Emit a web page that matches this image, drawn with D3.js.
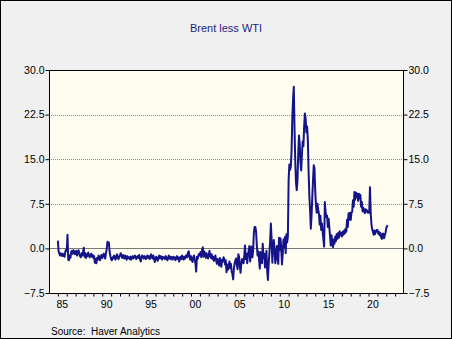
<!DOCTYPE html>
<html><head><meta charset="utf-8">
<script src="https://cdn.jsdelivr.net/npm/d3@7"></script>
<style>
html,body{margin:0;padding:0;background:#f0f0f0;}
svg{display:block;}
text{font-family:"Liberation Sans",Arial,sans-serif;}
</style></head>
<body>
<svg id="c" width="452" height="339"></svg>
<script>
const title = "Brent less WTI";
const source = "Source:  Haver Analytics";
const startYear = 1985;
// Monthly Brent less WTI ($/bbl), Jan 1985 onward, one row per year
const spread = [
  [1.3,-0.5,-0.9,-1.2,-0.8,-1.0,-1.3,-0.9,-1.1,-1.4,-0.6,-0.2],
  [-0.4,2.3,-1.9,-2.0,-1.2,-1.6,-0.6,-0.4,-0.9,-0.3,-0.5,-1.0],
  [-0.5,-0.4,-1.2,-0.7,-0.3,-0.9,-1.3,-1.5,-0.8,-1.2,-0.6,0.1],
  [-1.4,-0.8,-1.6,-1.0,-1.3,-0.7,-1.1,-1.5,-1.2,-0.9,-1.4,-1.1],
  [-1.6,-1.3,-2.4,-1.8,-2.5,-1.6,-1.9,-1.2,-1.6,-2.0,-1.4,-1.1],
  [-1.6,-1.2,-0.9,-1.4,-1.7,-0.8,-0.2,1.1,0.9,1.0,-0.6,-1.3],
  [-1.8,-2.0,-1.5,-1.7,-1.2,-1.6,-1.9,-1.3,-1.0,-1.5,-1.8,-1.4],
  [-1.2,-0.8,-1.3,-1.6,-1.1,-1.4,-1.7,-1.2,-1.5,-1.9,-1.3,-1.6],
  [-1.5,-1.8,-1.4,-1.9,-1.6,-1.3,-1.7,-1.5,-1.2,-1.4,-1.8,-1.5],
  [-1.3,-1.6,-1.1,-1.8,-2.2,-1.5,-1.2,-1.4,-1.7,-1.3,-1.5,-1.8],
  [-1.4,-1.2,-1.6,-1.3,-1.8,-1.5,-1.0,-1.4,-1.7,-1.2,-1.6,-2.3],
  [-1.8,-1.4,-1.6,-2.1,-1.5,-1.2,-1.7,-1.3,-1.6,-1.9,-1.4,-1.6],
  [-1.5,-1.8,-1.3,-1.6,-2.0,-1.7,-1.2,-1.5,-1.8,-1.4,-1.6,-1.9],
  [-1.4,-1.7,-1.5,-2.0,-1.6,-1.3,-1.8,-1.5,-2.2,-1.6,-1.4,-1.8],
  [-1.2,-1.6,-1.9,-1.4,-1.7,-1.3,-1.1,-1.5,-0.7,-0.5,-1.4,-1.9],
  [-1.3,-1.8,-2.3,-1.6,-1.2,-1.9,-2.5,-3.9,-1.4,-1.8,-1.2,-0.9],
  [-1.2,-0.6,-1.5,-0.2,0.2,-1.4,-0.5,-0.9,-1.6,-0.8,-1.3,-1.7],
  [-1.1,-0.4,-1.3,-1.6,-1.0,-1.8,-1.4,-2.1,-1.6,-1.2,-2.0,-2.6],
  [-1.8,-2.3,-2.9,-1.6,-2.5,-3.1,-1.9,-2.2,-1.5,-1.8,-2.7,-2.0],
  [-4.0,-2.7,-3.6,-3.0,-2.2,-3.3,-2.6,-3.9,-4.3,-5.2,-3.4,-2.5],
  [-2.0,-1.7,-2.8,-3.5,-1.0,-1.4,-2.9,-4.1,-2.6,-1.8,-2.3,-2.5],
  [-1.4,0.5,-1.8,-0.9,-2.5,-1.2,-0.3,0.4,-2.2,-0.5,0.3,-1.5],
  [-0.4,2.6,3.6,3.6,2.8,0.5,-1.2,-0.5,-1.8,-3.4,-0.6,-1.0],
  [-2.5,0.8,-1.6,-0.9,-3.2,-2.1,-0.4,-3.8,-5.3,-2.6,-0.8,1.2],
  [4.2,1.5,-2.4,0.6,1.4,-0.5,-2.5,-0.9,0.4,-1.8,-2.6,1.8],
  [-0.3,1.7,0.1,-2.7,-1.0,1.5,0.2,1.9,-0.8,2.4,1.0,2.0],
  [11.5,14.1,13.2,13.8,16.5,22.0,25.0,27.2,20.0,14.5,11.0,9.8],
  [11.5,16.0,19.0,17.5,14.5,13.1,15.8,18.0,17.2,20.5,22.7,21.8],
  [19.5,20.5,18.2,13.0,8.8,6.5,3.3,5.5,8.7,11.5,14.0,13.4],
  [9.5,7.2,6.0,7.5,6.5,5.8,4.0,5.5,3.1,4.2,2.8,1.5],
  [0.3,7.8,6.0,5.3,5.5,3.6,5.0,3.6,2.0,0.5,2.2,1.2],
  [0.2,1.5,0.8,2.0,1.2,2.4,1.6,2.6,1.8,2.9,2.2,2.6],
  [2.0,2.8,2.3,3.0,2.5,3.3,2.8,4.8,3.6,5.9,4.8,6.0],
  [4.8,6.0,6.2,8.1,7.0,9.5,8.2,9.4,8.6,9.2,8.0,9.2],
  [8.4,9.0,7.0,7.8,6.2,6.8,6.5,5.9,6.6,6.2,6.4,6.0],
  [6.2,6.0,10.3,5.9,4.0,3.2,2.8,2.3,3.0,2.4,2.9,3.1],
  [3.1,2.5,2.8,2.2,2.6,1.9,1.6,2.4,2.5,1.7,2.2,2.6],
  [3.4,3.7,3.9]
];
const yTicks = [-7.5, 0, 7.5, 15, 22.5, 30];
const xLabelYears = [1985,1990,1995,2000,2005,2010,2015,2020];
const xDomain = [1984, 2024];
const yDomain = [-7.5, 30];

const data = [];
spread.forEach((row,i)=>row.forEach((v,m)=>data.push({t:startYear+i+m/12, v})));

const svg = d3.select("#c");
const L=49, R=404, T=70, B=293;
const x = d3.scaleLinear().domain(xDomain).range([L,R]);
const y = d3.scaleLinear().domain(yDomain).range([B,T]);

// outer frame
svg.append("rect").attr("x",0.5).attr("y",0.5).attr("width",451).attr("height",338)
  .attr("fill","#f0f0f0").attr("stroke","#000");

// plot bg
svg.append("rect").attr("x",L).attr("y",T).attr("width",R-L).attr("height",B-T).attr("fill","#fffcf0");

// grid
yTicks.filter(v=>v>yDomain[0]&&v<yDomain[1]).forEach(v=>{
  svg.append("line").attr("x1",L).attr("x2",R).attr("y1",Math.round(y(v))+0.5).attr("y2",Math.round(y(v))+0.5)
    .attr("stroke", v===0?"#7a7a7a":"#8a8a8a").attr("stroke-width",1)
    .attr("stroke-dasharray", v===0?null:"1,1");
});

// line
const line = d3.line().x(d=>x(d.t)).y(d=>y(d.v));
svg.append("path").datum(data).attr("d",line).attr("fill","none")
  .attr("stroke","#141488").attr("stroke-width",2).attr("stroke-linejoin","round");

// frame
svg.append("rect").attr("x",L+0.5).attr("y",T+0.5).attr("width",R-L-1).attr("height",B-T)
  .attr("fill","none").attr("stroke","#000");

// left axis
const yl = d3.axisLeft(y).tickValues(yTicks).tickFormat(d3.format(".1f")).tickSize(4).tickSizeOuter(0);
const gl = svg.append("g").attr("transform",`translate(${L+0.5},0)`).call(yl);
// right axis
const yr = d3.axisRight(y).tickValues(yTicks).tickFormat(d3.format(".1f")).tickSize(4).tickSizeOuter(0);
const gr = svg.append("g").attr("transform",`translate(${R-0.5},0)`).call(yr);
// bottom axis
const years = d3.range(1985, 2024);
const xb = d3.axisBottom(x).tickValues(years).tickFormat("").tickSize(3).tickSizeOuter(0);
const gb = svg.append("g").attr("transform",`translate(0,${B+0.5})`).call(xb);
[gl,gr,gb].forEach(g=>{
  g.select(".domain").remove();
  g.selectAll("line").attr("stroke","#000");
  g.selectAll("text").attr("font-size","10.5px").attr("fill","#000")
    .attr("font-family","'Liberation Sans',Arial,sans-serif");
});
gl.selectAll("text").attr("x",-5);
gr.selectAll("text").attr("x",5);

svg.append("g").selectAll("text").data(xLabelYears).join("text")
  .attr("x",d=>x(d+0.5)).attr("y",308).attr("text-anchor","middle")
  .attr("font-size","10.5px").attr("fill","#000")
  .text(d=>String(d%100).padStart(2,"0"));

svg.append("text").attr("x",226).attr("y",32).attr("text-anchor","middle")
  .attr("font-size","11px").attr("fill","#1e1e7a").text(title);

svg.append("text").attr("x",51).attr("y",335).attr("font-size","10px").attr("fill","#000")
  .attr("xml:space","preserve").style("white-space","pre").text(source);
</script>
</body></html>
